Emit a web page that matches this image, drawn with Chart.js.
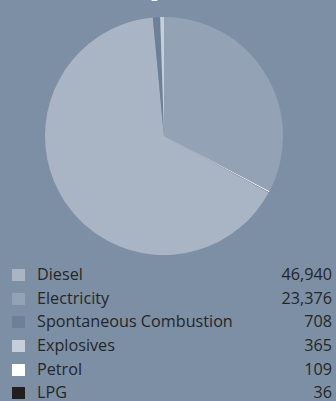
<!DOCTYPE html>
<html>
<head>
<meta charset="utf-8">
<script src="https://cdn.jsdelivr.net/npm/chart.js@4/dist/chart.umd.min.js"></script>
<style>
  html, body { margin: 0; padding: 0; }
  body {
    width: 336px; height: 401px; overflow: hidden; position: relative;
    background: #7c8fa5;
    font-family: "Open Sans", "Lato", sans-serif;
  }
  #note {
    position: absolute; left: 150px; top: -11px;
    font: 13px "DejaVu Sans", sans-serif; color: #ffffff;
  }
  #pieBox { position: absolute; left: -4px; top: 17px; width: 336px; height: 238px; }
  #legend { position: absolute; left: 0; top: 263px; width: 336px; }
  .row { position: relative; height: 23.7px; color: #262626; font-size: 16.2px; line-height: 23.7px; }
  .sw { position: absolute; left: 12px; top: 6px; width: 13px; height: 12px; }
  .name { position: absolute; left: 37px; top: 0; }
  .val { position: absolute; right: 4px; top: 0; }
</style>
</head>
<body>
<div id="note">1</div>
<div id="pieBox"><canvas id="pie"></canvas></div>
<div id="legend"></div>
<script>
// Energy sources, listed as in the key
const sources = ["Diesel", "Electricity", "Spontaneous Combustion", "Explosives", "Petrol", "LPG"];
const amounts = [46940, 23376, 708, 365, 109, 36];
const swatches = ["#a9b4c4", "#93a3b5", "#6d809a", "#c6ced9", "#ffffff", "#231f20"];
// Order in which the slices run clockwise from twelve o'clock
const sliceOrder = ["Electricity", "Petrol", "LPG", "Diesel", "Spontaneous Combustion", "Explosives"];

const idx = sliceOrder.map(n => sources.indexOf(n));

new Chart(document.getElementById("pie"), {
  type: "pie",
  data: {
    labels: idx.map(i => sources[i]),
    datasets: [{
      data: idx.map(i => amounts[i]),
      backgroundColor: idx.map(i => swatches[i]),
      borderWidth: 0
    }]
  },
  options: {
    responsive: true,
    maintainAspectRatio: false,
    animation: false,
    layout: { padding: 0 },
    plugins: { legend: { display: false }, tooltip: { enabled: false } }
  }
});

const fmt = new Intl.NumberFormat("en-US");
const legend = document.getElementById("legend");
sources.forEach((s, i) => {
  const row = document.createElement("div");
  row.className = "row";
  row.innerHTML = '<span class="sw" style="background:' + swatches[i] + '"></span>' +
    '<span class="name">' + s + '</span><span class="val">' + fmt.format(amounts[i]) + '</span>';
  legend.appendChild(row);
});
</script>
</body>
</html>
